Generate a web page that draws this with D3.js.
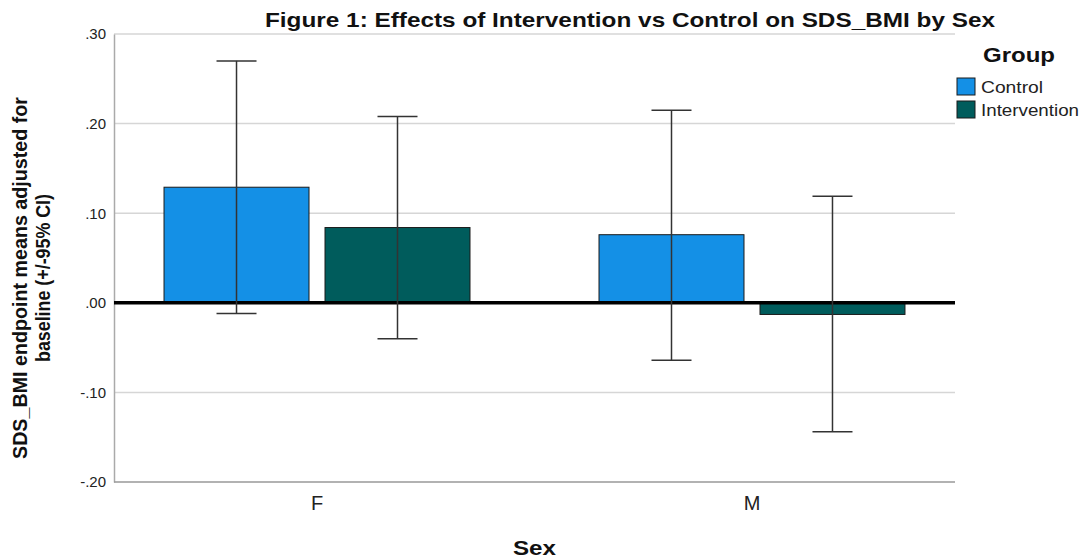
<!DOCTYPE html>
<html><head><meta charset="utf-8">
<script src="https://cdn.jsdelivr.net/npm/d3@7"></script>
<style>body{margin:0;background:#fff}svg{display:block;font-family:"Liberation Sans",Arial,sans-serif}
.ytick text{font-size:15px !important}</style>
</head><body><svg id="c" width="1080" height="558"></svg>
<script>
const categories = ["F", "M"];
const groups = ["Control", "Intervention"];
const means = { F: [0.129, 0.084], M: [0.076, -0.013] };
const ciLow = { F: [-0.012, -0.040], M: [-0.064, -0.144] };
const ciHigh = { F: [0.270, 0.208], M: [0.215, 0.119] };
const yTicks = [0.30, 0.20, 0.10, 0.00, -0.10, -0.20];
const yTickLabels = [".30", ".20", ".10", ".00", "-.10", "-.20"];
const colors = ["#1490e6", "#005c5c"];

const svg = d3.select("#c");
const L = 114, R = 955, T = 34, B = 482;
const y = d3.scaleLinear().domain([-0.2, 0.3]).range([B, T]);
const x0 = d3.scaleBand().domain(categories).range([L, R]).paddingInner(0.2966).paddingOuter(0.115);
const x1 = d3.scaleBand().domain(groups).range([0, x0.bandwidth()]).paddingInner(0.0994).paddingOuter(0);
const color = d3.scaleOrdinal().domain(groups).range(colors);

// gridlines
svg.append("g").selectAll("line").data(yTicks.filter(t => t !== 0 && t !== -0.2)).join("line")
  .attr("x1", L).attr("x2", R).attr("y1", d => y(d)).attr("y2", d => y(d))
  .attr("stroke", "#d6d6d6").attr("stroke-width", 1.5);

// axes
const yAxis = svg.append("g").attr("class", "ytick").attr("transform", `translate(${L},0)`)
  .call(d3.axisLeft(y).tickValues(yTicks).tickSize(0).tickPadding(8)
    .tickFormat((d, i) => yTickLabels[i]));
yAxis.attr("font-size", 15).attr("font-family", null);
yAxis.select(".domain").attr("stroke", "#aaa").attr("stroke-width", 1.5);
yAxis.selectAll("text").attr("font-size", 15).attr("fill", "#222");

const xAxis = svg.append("g").attr("transform", `translate(0,${B})`)
  .call(d3.axisBottom(x0).tickSize(0).tickPadding(14));
xAxis.attr("font-size", 20).attr("font-family", null);
xAxis.select(".domain").attr("stroke", "#999").attr("stroke-width", 1.5).attr("d", `M${L},0H${R}`);
xAxis.selectAll("text").attr("font-size", 20).attr("fill", "#222");

// bars
const data = [];
categories.forEach(c => groups.forEach((g, i) => data.push({ c, g, v: means[c][i], lo: ciLow[c][i], hi: ciHigh[c][i] })));
const bars = svg.append("g");
bars.selectAll("rect").data(data).join("rect")
  .attr("x", d => x0(d.c) + x1(d.g))
  .attr("width", x1.bandwidth())
  .attr("y", d => y(Math.max(0, d.v)))
  .attr("height", d => Math.abs(y(d.v) - y(0)))
  .attr("fill", d => color(d.g))
  .attr("stroke", "#1a1a1a").attr("stroke-width", 1);

// zero line
svg.append("line").attr("x1", L).attr("x2", R).attr("y1", y(0)).attr("y2", y(0))
  .attr("stroke", "#000").attr("stroke-width", 3.5);

// error bars
const eb = svg.append("g").attr("stroke", "#333").attr("stroke-width", 1.5);
const cx = d => x0(d.c) + x1(d.g) + x1.bandwidth() / 2;
eb.selectAll("line.v").data(data).join("line").attr("class", "v")
  .attr("x1", cx).attr("x2", cx).attr("y1", d => y(d.hi)).attr("y2", d => y(d.lo));
eb.selectAll("line.h").data(data).join("line").attr("class", "h")
  .attr("x1", d => cx(d) - 20).attr("x2", d => cx(d) + 20).attr("y1", d => y(d.hi)).attr("y2", d => y(d.hi));
eb.selectAll("line.l").data(data).join("line").attr("class", "l")
  .attr("x1", d => cx(d) - 20).attr("x2", d => cx(d) + 20).attr("y1", d => y(d.lo)).attr("y2", d => y(d.lo));

// title
svg.append("text").attr("x", 265).attr("y", 27)
  .attr("font-size", 21).attr("font-weight", "bold").attr("fill", "#111")
  .attr("textLength", 730).attr("lengthAdjust", "spacingAndGlyphs")
  .text("Figure 1: Effects of Intervention vs Control on SDS_BMI by Sex");

// x label
svg.append("text").attr("x", 513).attr("y", 555)
  .attr("font-size", 20).attr("font-weight", "bold").attr("fill", "#111")
  .attr("textLength", 43).attr("lengthAdjust", "spacingAndGlyphs").text("Sex");

// y label
const yl = svg.append("text").attr("transform", "translate(0,278) rotate(-90)")
  .attr("text-anchor", "middle").attr("font-size", 20).attr("font-weight", "bold").attr("fill", "#111")
  .attr("font-family", "Liberation Sans Narrow, Arial Narrow, Liberation Sans, Arial");
yl.append("tspan").attr("x", 0).attr("y", 27).attr("textLength", 362).attr("lengthAdjust", "spacingAndGlyphs").text("SDS_BMI endpoint means adjusted for");
yl.append("tspan").attr("x", 0).attr("y", 50).attr("textLength", 168).attr("lengthAdjust", "spacingAndGlyphs").text("baseline (+/-95% CI)");

// legend
svg.append("text").attr("x", 983).attr("y", 62).attr("font-size", 21).attr("font-weight", "bold").attr("fill", "#111")
  .attr("textLength", 72).attr("lengthAdjust", "spacingAndGlyphs").text("Group");
const lg = svg.append("g").selectAll("g").data(groups).join("g")
  .attr("transform", (d, i) => `translate(957,${78 + i * 23})`);
lg.append("rect").attr("width", 18).attr("height", 17).attr("fill", d => color(d)).attr("stroke", "#1a1a1a").attr("stroke-width", 1);
lg.append("text").attr("x", 24).attr("y", 15).attr("font-size", 16).attr("fill", "#222")
  .attr("textLength", (d, i) => [62, 98][i]).attr("lengthAdjust", "spacingAndGlyphs").text(d => d);
</script></body></html>
